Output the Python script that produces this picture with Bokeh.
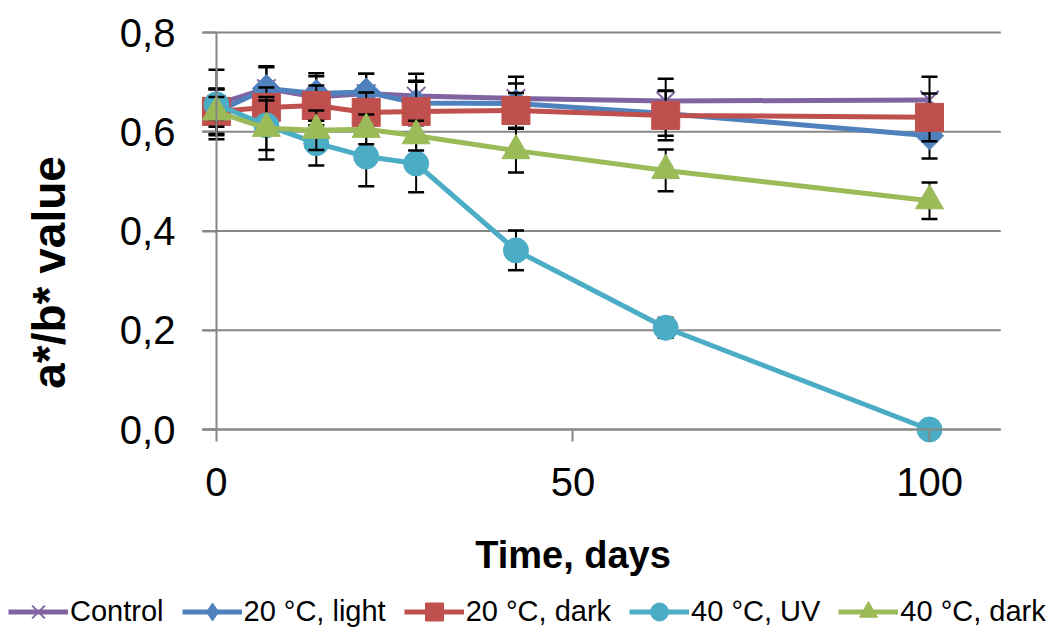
import math
from bokeh.plotting import figure
from bokeh.models import (ColumnDataSource, FixedTicker, CustomJSTickFormatter,
                          Legend, LegendItem, Range1d, LinearAxis)
from bokeh.embed import file_html
from bokeh.resources import INLINE

days = [0, 7, 14, 21, 28, 42, 63, 100]
x_ticks = [0, 50, 100]
y_ticks = [0.0, 0.2, 0.4, 0.6, 0.8]

series_names = ["Control", "20 °C, light", "20 °C, dark", "40 °C, UV", "40 °C, dark"]
control = [0.655, 0.687, 0.670, 0.677, 0.672, 0.667, 0.662, 0.664]
control_err = [0.07, 0.045, 0.048, 0.04, 0.045, 0.044, 0.045, 0.047]
light20 = [0.640, 0.687, 0.677, 0.680, 0.658, 0.657, 0.637, 0.592]
light20_err = [0.047, 0.043, 0.035, 0.037, 0.045, 0.04, 0.045, 0.046]
dark20 = [0.641, 0.649, 0.653, 0.639, 0.641, 0.643, 0.633, 0.629]
dark20_err = [0.045, 0.04, 0.04, 0.04, 0.06, 0.035, 0.05, 0.048]
uv40 = [0.655, 0.613, 0.577, 0.550, 0.536, 0.361, 0.205, 0.0]
uv40_err = [0.03, 0.05, 0.045, 0.06, 0.058, 0.04, 0.02, 0.0]
dark40 = [0.640, 0.607, 0.603, 0.605, 0.592, 0.562, 0.522, 0.461]
dark40_err = [0.03, 0.063, 0.04, 0.03, 0.03, 0.044, 0.042, 0.037]

FONT = "Liberation Sans"
GRAY = "#878787"

# plot area extent (data units); the whole canvas is used as the frame
X_LO, X_HI = -2, 110
p = figure(width=1058, height=635, output_backend="svg", toolbar_location=None,
           x_range=Range1d(-30.29, 118.09), y_range=Range1d(-0.4151, 0.8645),
           min_border=0, min_border_left=0, min_border_right=0,
           min_border_top=0, min_border_bottom=0)
p.outline_line_color = None
p.background_fill_color = "white"
p.border_fill_color = "white"
p.xgrid.visible = False
p.ygrid.visible = False

# horizontal gridlines over the plot area
p.segment(x0=[X_LO] * len(y_ticks), y0=y_ticks, x1=[X_HI] * len(y_ticks), y1=y_ticks,
          line_color=GRAY, line_width=2)

fmt = CustomJSTickFormatter(code="return tick.toFixed(1).replace('.', ',');")

xa = p.xaxis[0]
xa.fixed_location = 0
xa.bounds = (X_LO, X_HI)
xa.ticker = FixedTicker(ticks=x_ticks)
xa.minor_tick_line_color = None
xa.major_tick_in = 0
xa.major_tick_out = 12
xa.major_tick_line_color = GRAY
xa.major_tick_line_width = 2
xa.axis_line_color = GRAY
xa.axis_line_width = 2
xa.major_label_text_font = FONT
xa.major_label_text_font_size = "40px"
xa.major_label_text_color = "black"
xa.major_label_standoff = 26

ya = p.yaxis[0]
ya.fixed_location = 0
ya.bounds = (0, 0.8)
ya.ticker = FixedTicker(ticks=y_ticks)
ya.formatter = fmt
ya.minor_tick_line_color = None
ya.major_tick_in = 0
ya.major_tick_out = 14
ya.major_tick_line_color = GRAY
ya.major_tick_line_width = 2
ya.axis_line_color = GRAY
ya.axis_line_width = 2
ya.major_label_text_font = FONT
ya.major_label_text_font_size = "40px"
ya.major_label_text_color = "black"
ya.major_label_standoff = 27

# title-only axes
xt = LinearAxis(fixed_location=0, bounds=(0, 100), ticker=FixedTicker(ticks=[]),
                axis_line_color=None, major_tick_line_color=None, minor_tick_line_color=None,
                major_tick_out=0, major_tick_in=0,
                axis_label="Time, days", axis_label_text_font=FONT,
                axis_label_text_font_style="bold", axis_label_text_font_size="38px",
                axis_label_text_color="black", axis_label_standoff=104)
p.add_layout(xt, "below")
yt = LinearAxis(fixed_location=0, bounds=(-0.168, 0.8), ticker=FixedTicker(ticks=[]),
                axis_line_color=None, major_tick_line_color=None, minor_tick_line_color=None,
                major_tick_out=0, major_tick_in=0,
                axis_label="a*/b* value", axis_label_text_font=FONT,
                axis_label_text_font_style="bold", axis_label_text_font_size="46px",
                axis_label_text_color="black", axis_label_standoff=142)
p.add_layout(yt, "left")

specs = [
    (control, control_err, "#8064A2", "x", 26, 0, "x"),
    (light20, light20_err, "#4F81BD", "square", 20, math.pi / 4, "diamond"),
    (dark20, dark20_err, "#C0504D", "square", 28, 0, "square"),
    (uv40, uv40_err, "#4BACC6", "circle", 25, 0, "circle"),
    (dark40, dark40_err, "#9BBB59", "triangle", 28, 0, "triangle"),
]

NAN = float("nan")
items = []
for name, (vals, errs, color, marker, size, angle, leg_marker) in zip(series_names, specs):
    lo = [v - e for v, e in zip(vals, errs)]
    hi = [v + e for v, e in zip(vals, errs)]
    src = ColumnDataSource(dict(x=days, y=vals, lo=lo, hi=hi))
    p.segment(x0="x", y0="lo", x1="x", y1="hi", source=src, line_color="black", line_width=2)
    p.scatter(x="x", y="hi", source=src, marker="dash", size=16, line_color="black", line_width=2.5)
    p.scatter(x="x", y="lo", source=src, marker="dash", size=16, line_color="black", line_width=2.5)
    lr = p.line(x="x", y="y", source=src, line_color=color, line_width=5)
    if marker == "x":
        mr = p.scatter(x="x", y="y", source=src, marker="x", size=size, line_color=color, line_width=2)
    else:
        mr = p.scatter(x="x", y="y", source=src, marker=marker, size=size, angle=angle,
                       fill_color=color, line_color=color, line_width=1)
    # legend-only marker renderer (single NaN point, not drawn) for the legend symbol
    legend_src = ColumnDataSource(dict(x=[NAN], y=[NAN]))
    if leg_marker == "x":
        lm = p.scatter(x="x", y="y", source=legend_src, marker="x", line_color=color, line_width=2)
    else:
        lm = p.scatter(x="x", y="y", source=legend_src, marker=leg_marker,
                       fill_color=color, line_color=color)
    items.append(LegendItem(label=name, renderers=[lr, lm]))

legend = Legend(items=items, orientation="horizontal", location=(8, 1),
                glyph_width=60, glyph_height=45, label_standoff=2, spacing=18,
                padding=0, margin=0, border_line_color=None, background_fill_alpha=0,
                label_text_font=FONT, label_text_font_size="29px", label_text_color="black")
p.add_layout(legend)

open("out.html", "w").write(file_html(p, INLINE))
